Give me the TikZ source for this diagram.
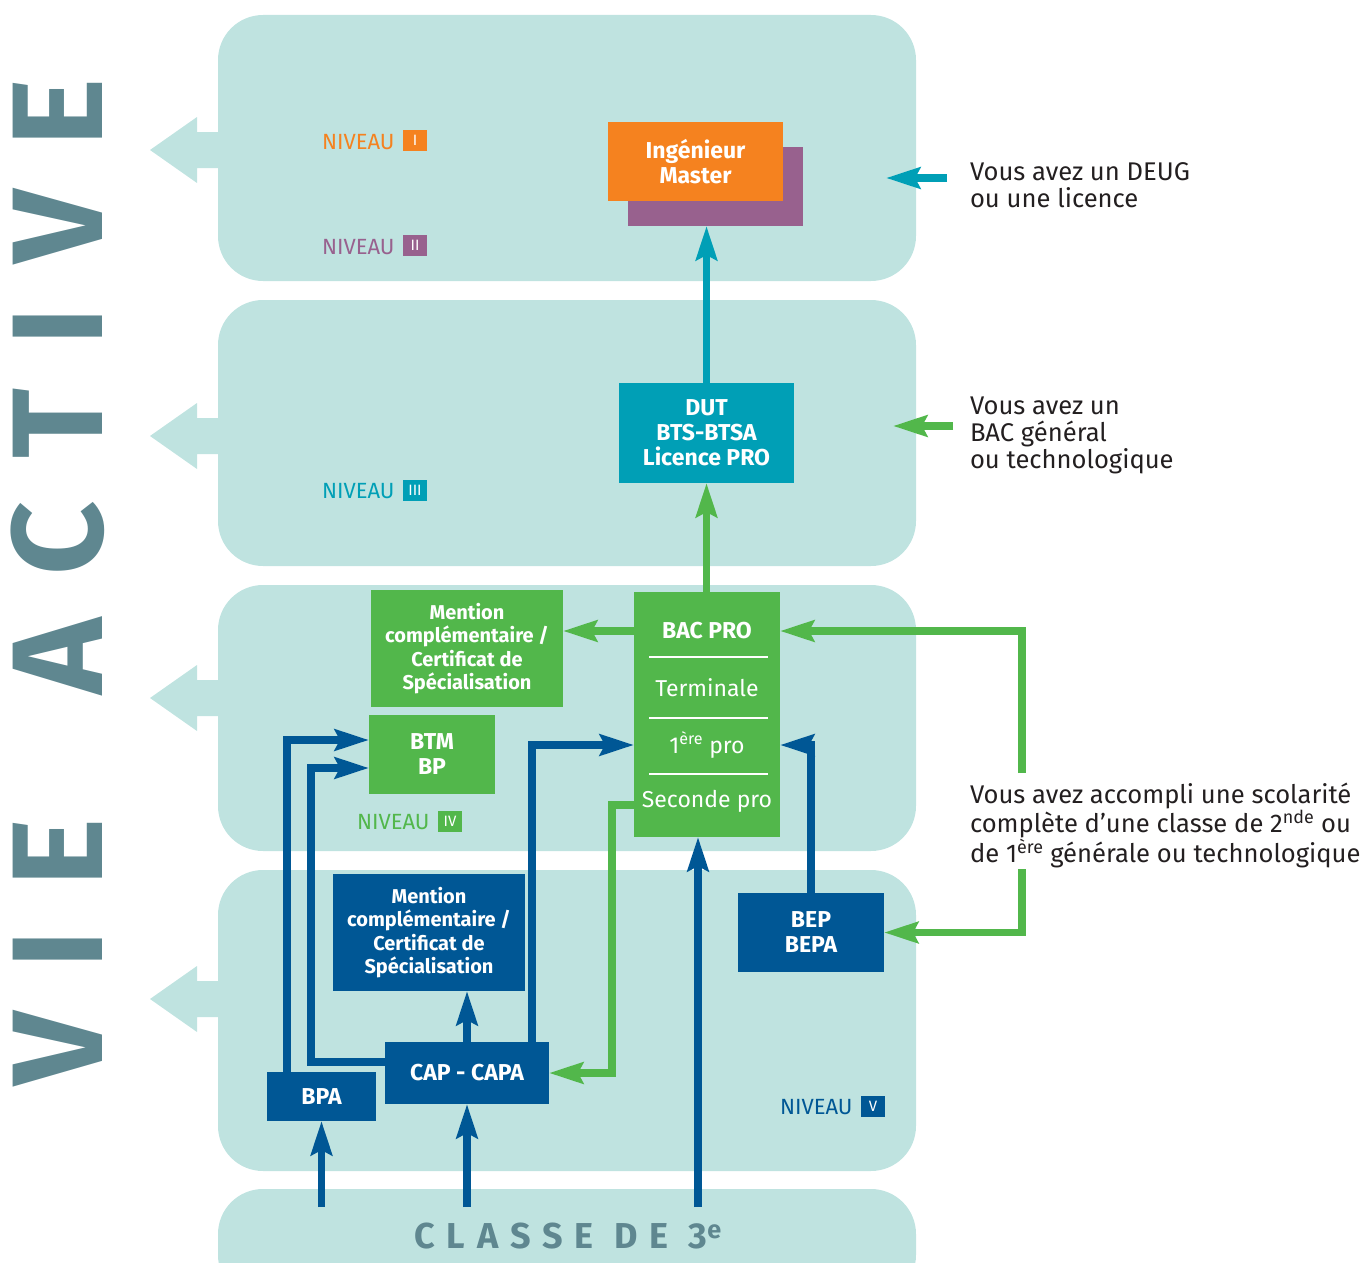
\documentclass[tikz,border=0pt]{standalone}
\usepackage{fontspec}
\setmainfont{Fira Sans}
\usetikzlibrary{arrows.meta}
\definecolor{band}{HTML}{BFE3E0}
\definecolor{corange}{HTML}{F5821F}
\definecolor{cpurple}{HTML}{98618E}
\definecolor{cteal}{HTML}{009FB6}
\definecolor{cgreen}{HTML}{52B74B}
\definecolor{cblue}{HTML}{005795}
\definecolor{cslate}{HTML}{5F8790}
\definecolor{ctext}{HTML}{231F20}
\begin{document}
\begin{tikzpicture}[x=1pt,y=-1pt,
  every node/.style={inner sep=0pt, outer sep=0pt},
  box/.style={rectangle, align=center, text=white, font=\bfseries\fontsize{23}{25}\selectfont},
  gbox/.style={box, fill=cgreen},
  bbox/.style={box, fill=cblue},
  smalltxt/.style={font=\bfseries\fontsize{20}{23.3}\selectfont},
  arr/.style={line width=7.5pt, -{Stealth[length=34pt,width=21pt,inset=5pt]}},
  lvl/.style={anchor=base west, font=\fontsize{22}{22}\selectfont},
  badge/.style={minimum width=24pt, minimum height=21pt, text=white, font=\fontsize{15}{15}\selectfont},
  rtext/.style={anchor=north west, align=left, text=ctext, font=\fontsize{25.6}{27}\selectfont},
  bigarrow/.style={fill=band}
]
\useasboundingbox (0,0) rectangle (1366,1263);
% bands
\fill[band, rounded corners=45pt] (218,15) rectangle (916,281);
\fill[band, rounded corners=45pt] (218,300) rectangle (916,566);
\fill[band, rounded corners=45pt] (218,585) rectangle (916,851);
\fill[band, rounded corners=45pt] (218,870) rectangle (916,1171);
\begin{scope}
\clip (0,0) rectangle (1366,1263);
\fill[band, rounded corners=45pt] (218,1189) rectangle (916,1300);
\end{scope}
% big left arrows
\foreach \c in {150,436,698,999} {
  \fill[band] (218,\c-18) -- (197,\c-18) -- (197,\c-33) -- (150,\c) -- (197,\c+33) -- (197,\c+18) -- (218,\c+18) -- cycle;
}
% vertical title
\node[rotate=90, text=cslate, font=\bfseries\fontsize{129}{129}\selectfont\addfontfeature{LetterSpace=34}] (vie) at (58,582) {VIE\hspace{50pt} ACTIVE};
% bottom band text
\node[anchor=base, text=cslate, font=\bfseries\fontsize{36}{36}\selectfont\addfontfeature{LetterSpace=33}] (classe) at (568,1248) {CLASSE DE 3\textsuperscript{e}};
% level labels
\node[lvl, text=corange] (n1) at (322,149) {NIVEAU};
\node[badge, fill=corange] (b1) at (415,140.5) {I};
\node[lvl, text=cpurple] (n2) at (322,254) {NIVEAU};
\node[badge, fill=cpurple] (b2) at (415,245.5) {II};
\node[lvl, text=cteal] (n3) at (322,498) {NIVEAU};
\node[badge, fill=cteal] (b3) at (415,490) {III};
\node[lvl, text=cgreen] (n4) at (357,829) {NIVEAU};
\node[badge, fill=cgreen] (b4) at (450,821) {IV};
\node[lvl, text=cblue] (n5) at (780,1114) {NIVEAU};
\node[badge, fill=cblue] (b5) at (873,1106.5) {V};
% boxes
\fill[cpurple] (628,147) rectangle (803,226);
\node (shadow) at (715.5,186.5) [minimum width=175pt, minimum height=79pt] {};
\node[box, fill=corange, minimum width=175pt, minimum height=79pt] (ing) at (695.5,161.5) {Ingénieur\\Master};
\node[box, fill=cteal, minimum width=175pt, minimum height=100pt] (dut) at (706.5,433) {DUT\\BTS-BTSA\\Licence PRO};
\node[gbox, minimum width=146pt, minimum height=245pt] (bac) at (707,714.5) {};
\node[box, minimum width=146pt] (bactitle) at (707,631) {BAC PRO};
\node[box, font=\fontsize{23}{25}\selectfont, minimum width=146pt] (term) at (707,688) {Terminale};
\node[box, font=\fontsize{23}{25}\selectfont, minimum width=146pt] (prem) at (707,745) {1\textsuperscript{ère} pro};
\node[box, font=\fontsize{23}{25}\selectfont, minimum width=146pt] (sec) at (707,801) {Seconde pro};
\draw[white, line width=2pt] (649,657) -- (768,657);
\draw[white, line width=2pt] (649,718) -- (768,718);
\draw[white, line width=2pt] (649,774) -- (768,774);
\node[gbox, smalltxt, minimum width=192pt, minimum height=117pt] (mcg) at (467,648.5) {Mention\\complémentaire /\\Certificat de\\Spécialisation};
\node[gbox, minimum width=126pt, minimum height=79pt] (btm) at (432,754.5) {BTM\\BP};
\node[bbox, smalltxt, minimum width=192pt, minimum height=117pt] (mcb) at (429,932.5) {Mention\\complémentaire /\\Certificat de\\Spécialisation};
\node[bbox, minimum width=164pt, minimum height=62pt] (cap) at (467,1073) {CAP - CAPA};
\node[bbox, minimum width=109pt, minimum height=49pt] (bpa) at (321.5,1096.5) {BPA};
\node[bbox, minimum width=146pt, minimum height=79pt] (bep) at (811,932.5) {BEP\\BEPA};
% right texts
\node[rtext] (deug) at (970,163) {Vous avez un DEUG\\ou une licence};
\node[rtext] (bacg) at (970,397) {Vous avez un\\BAC général\\ou technologique};
\node[rtext] (acc) at (970,783) {Vous avez accompli une scolarité\\complète d’une classe de 2\textsuperscript{nde} ou\\de 1\textsuperscript{ère} générale ou technologique};
% helper coordinates
\coordinate (lx1) at (287,0);
\coordinate (lx2) at (311,0);
\coordinate (cx) at (532,0);
\coordinate (gx) at (612,0);
\coordinate (bx) at (698,0);
\coordinate (cl) at (0,1207);
\coordinate (g1) at (1022,773);
\coordinate (g2) at (1022,869);
\coordinate (t1) at (947,178);
\coordinate (t1e) at (886,178);
\coordinate (t2) at (953,426);
\coordinate (t2e) at (893,426);
\coordinate (btmhi) at ([yshift=14.5pt]btm.west);
\coordinate (btmlo) at ([yshift=-13.5pt]btm.west);
\coordinate (secw) at ([yshift=-4pt]sec.west);
% connectors
\draw[arr, cteal] (dut.north) -- (dut.north |- shadow.south);
\draw[arr, cgreen] (bac.north -| dut.south) -- (dut.south);
\draw[arr, cgreen] (bactitle.west) -- (mcg.east |- bactitle.west);
\draw[arr, cgreen] (g1) |- (bactitle.east);
\draw[arr, cgreen] (g2) |- (bep.east);
\draw[arr, cgreen] (secw) -| (cap.east -| gx) -- (cap.east);
\draw[arr, cblue] (bep.north) |- (prem.east);
\draw[arr, cblue] (cap.north -| cx) |- (prem.west);
\draw[arr, cblue] (cap.north) -- (cap.north |- mcb.south);
\draw[arr, cblue] ([yshift=11pt]cap.west) -| (btmlo -| lx2) -- (btmlo);
\draw[arr, cblue] (bpa.north -| lx1) |- (btmhi);
\draw[arr, cblue] (bpa.south |- cl) -- (bpa.south);
\draw[arr, cblue] (cap.south |- cl) -- (cap.south);
\draw[arr, cblue] (bx |- cl) -- (bx |- bac.south);
\draw[arr, cteal] (t1) -- (t1e);
\draw[arr, cgreen] (t2) -- (t2e);
\end{tikzpicture}
\end{document}
